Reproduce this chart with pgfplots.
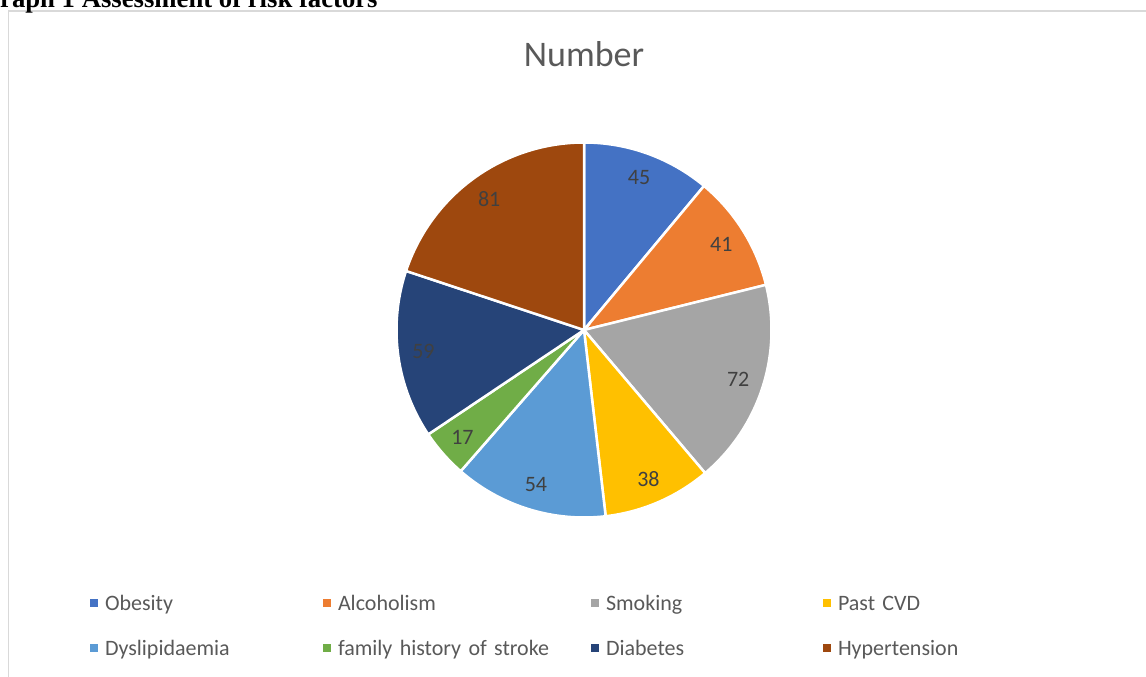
\documentclass[border=0pt]{standalone}
\usepackage{pgfplots}
\usepackage{pgfplotstable}
\pgfplotsset{compat=1.18}
\usepackage{fontspec}
\setmainfont{Carlito}
\newfontfamily\headfont{Liberation Serif}
\definecolor{cObe}{HTML}{4472C4}
\definecolor{cAlc}{HTML}{ED7D31}
\definecolor{cSmo}{HTML}{A5A5A5}
\definecolor{cCVD}{HTML}{FFC000}
\definecolor{cDys}{HTML}{5B9BD5}
\definecolor{cFam}{HTML}{70AD47}
\definecolor{cDia}{HTML}{264478}
\definecolor{cHyp}{HTML}{9E480E}
\definecolor{labc}{HTML}{404040}
\definecolor{legc}{HTML}{595959}
\definecolor{borderc}{HTML}{D9D9D9}

\pgfplotstableread{
value color
45 cObe
41 cAlc
72 cSmo
38 cCVD
54 cDys
17 cFam
59 cDia
81 cHyp
}\piedata

\begin{document}
\begin{tikzpicture}[x=1bp,y=1bp]
\useasboundingbox (0,0) rectangle (1146,677);
\clip (0,0) rectangle (1146,677);
\draw[color=borderc, line width=1.3bp] (8.5,-5) -- (8.5,666) -- (1160,666);
\node[anchor=base west, inner sep=0, font=\headfont\bfseries\fontsize{26.7bp}{30bp}\selectfont] at (-20.8,669.5) {Graph 1 Assessment of risk factors};
\begin{axis}[x=1bp, y=1bp, scale only axis, xmin=0, xmax=1146, ymin=0, ymax=677,
  enlargelimits=false, hide axis, clip=false, at={(0,0)}, anchor=south west,
  legend columns=4,
  legend cell align=left,
  legend image code/.code={\fill[#1, draw=none] (0bp,4bp) rectangle (8bp,12bp);},
  legend style={draw=none, fill=none, at={(axis cs:90,83)}, anchor=north west,
    inner sep=0pt, outer sep=0pt, row sep=22bp,
    font=\fontsize{22bp}{26bp}\selectfont, text=legc,
    nodes={inner sep=0pt, text height=17bp, text depth=6bp, anchor=base west},
    /tikz/every odd column/.append style={column sep=7bp},
    /tikz/column 2/.style={nodes={text width=218bp}},
    /tikz/column 4/.style={nodes={text width=253bp}},
    /tikz/column 6/.style={nodes={text width=217bp}},
    /tikz/column 8/.style={nodes={text width=160bp}},
  },
]
\pgfplotstablegetrowsof{\piedata}
\pgfmathtruncatemacro\nrows{\pgfplotsretval-1}
\def\tot{0}
\pgfplotsforeachungrouped \i in {0,...,\nrows}{%
  \pgfplotstablegetelem{\i}{value}\of\piedata
  \pgfmathsetmacro\tot{\tot+\pgfplotsretval}%
}
\def\cum{0}
\pgfplotsforeachungrouped \i in {0,...,\nrows}{%
  \pgfplotstablegetelem{\i}{value}\of\piedata \let\myv\pgfplotsretval
  \pgfplotstablegetelem{\i}{color}\of\piedata \let\mycol\pgfplotsretval
  \pgfmathsetmacro\angA{90-\cum/\tot*360}%
  \pgfmathsetmacro\angB{90-(\cum+\myv)/\tot*360}%
  \pgfmathsetmacro\angM{(\angA+\angB)/2}%
  \pgfmathsetmacro\lx{584+162*cos(\angM)}%
  \pgfmathsetmacro\ly{347+162*sin(\angM)}%
  \edef\doplot{\noexpand\addplot[fill=\mycol, draw=white, line width=2.5bp, domain=\angB:\angA, samples=90]
    ({584+187.5*cos(x)},{347+187.5*sin(x)}) -- (axis cs:584,347) -- cycle;
    \noexpand\node[text=labc, font=\noexpand\fontsize{22bp}{26bp}\noexpand\selectfont] at (axis cs:\lx,\ly) {\myv};}%
  \doplot
  \pgfmathsetmacro\cum{\cum+\myv}%
}
\node[anchor=base, text=legc, font=\fontsize{36bp}{40bp}\selectfont] at (axis cs:584,610) {Number};
\legend{Obesity,Alcoholism,Smoking,Past CVD,Dyslipidaemia,family history of stroke,Diabetes,Hypertension}
\end{axis}
\end{tikzpicture}
\end{document}
